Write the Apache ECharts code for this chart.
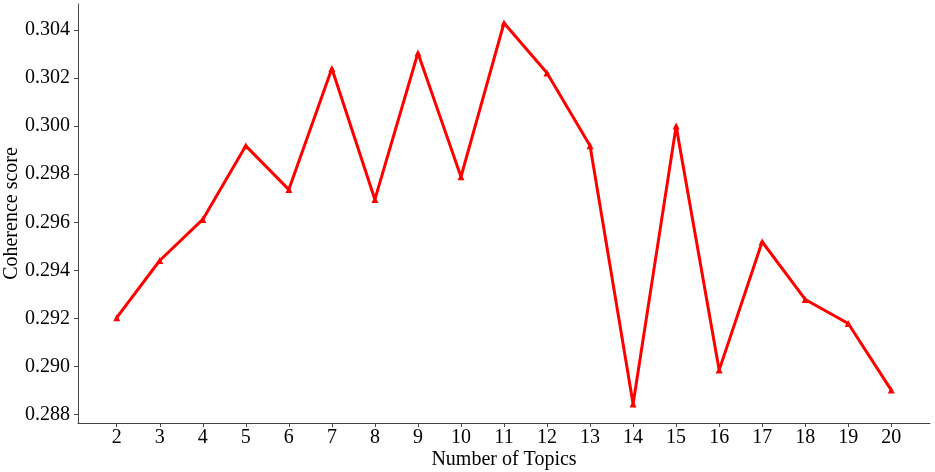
<!DOCTYPE html>
<html>
<head>
<meta charset="utf-8">
<script src="https://cdn.jsdelivr.net/npm/echarts@6/dist/echarts.min.js"></script>
<style>
  html, body { margin: 0; padding: 0; background: #fff; }
  #container { width: 935px; height: 472px; }
</style>
</head>
<body>
<div id="container"></div>
<script>
// values
var topics = [2, 3, 4, 5, 6, 7, 8, 9, 10, 11, 12, 13, 14, 15, 16, 17, 18, 19, 20];
var coherence = [0.29203, 0.29441, 0.29612, 0.29918, 0.29736, 0.30240, 0.29695, 0.30304, 0.29789, 0.30429,
                 0.30221, 0.29918, 0.28844, 0.30000, 0.28985, 0.29519, 0.29279, 0.29179, 0.28902];
var yTicks = [0.288, 0.290, 0.292, 0.294, 0.296, 0.298, 0.300, 0.302, 0.304];
var xTicks = topics;

var dom = document.getElementById('container');
var myChart = echarts.init(dom, null, { renderer: 'canvas' });

var font = 'Liberation Serif';
var points = topics.map(function (t, i) { return [t, coherence[i]]; });

var option = {
    backgroundColor: '#fff',
    animation: false,
    grid: { left: 78, right: 5, top: 4, bottom: 49, outerBoundsMode: 'none', containLabel: false },
    xAxis: {
        type: 'value',
        min: 1.1,
        max: 20.9,
        name: 'Number of Topics',
        nameLocation: 'middle',
        nameGap: 27,
        nameMoveOverlap: false,
        nameTextStyle: { fontFamily: font, fontSize: 20, color: '#000' },
        axisLine: { show: true, lineStyle: { color: '#444', width: 1 } },
        axisTick: { show: true, length: 4, customValues: xTicks, lineStyle: { color: '#444' } },
        axisLabel: { customValues: xTicks, margin: 5, fontFamily: font, fontSize: 20, color: '#000' },
        splitLine: { show: false }
    },
    yAxis: {
        type: 'value',
        min: 0.28765,
        max: 0.30508,
        name: 'Coherence score',
        nameLocation: 'middle',
        nameGap: 56,
        nameMoveOverlap: false,
        nameTextStyle: { fontFamily: font, fontSize: 20, color: '#000' },
        axisLine: { show: true, lineStyle: { color: '#444', width: 1 } },
        axisTick: { show: true, length: 4, customValues: yTicks, lineStyle: { color: '#444' } },
        axisLabel: {
            customValues: yTicks,
            margin: 8,
            fontFamily: font,
            fontSize: 20,
            color: '#000',
            formatter: function (v) { return v.toFixed(3); }
        },
        splitLine: { show: false }
    },
    series: [{
        type: 'line',
        data: points,
        symbol: 'triangle',
        symbolSize: 7,
        lineStyle: { color: '#ff0000', width: 3 },
        itemStyle: { color: '#ff0000' }
    }]
};

myChart.setOption(option);
window.addEventListener('resize', myChart.resize);
</script>
</body>
</html>
